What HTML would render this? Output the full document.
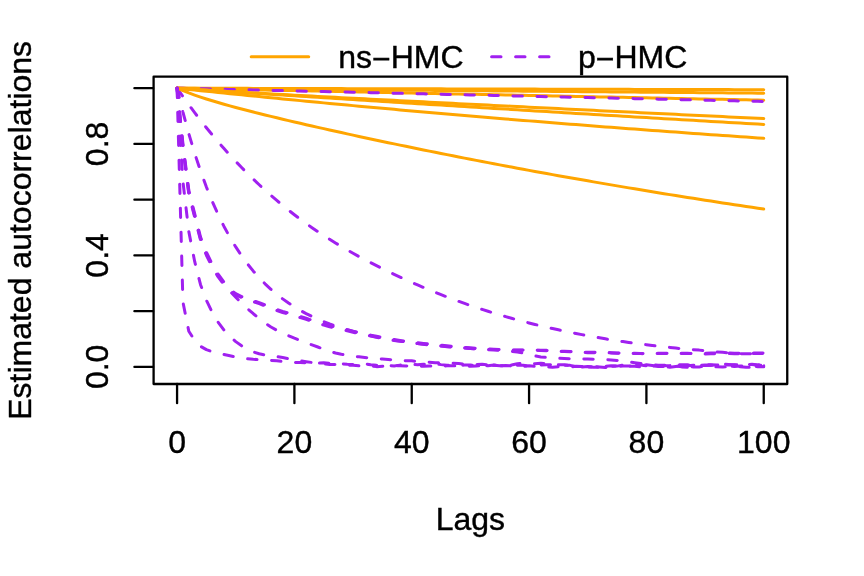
<!DOCTYPE html>
<html><head><meta charset="utf-8"><title>Autocorrelations</title>
<style>html,body{margin:0;padding:0;background:#fff;}.o{stroke:#FFA500}.p{stroke:#A020F0;stroke-dasharray:9.4 14.6}body{width:864px;height:576px;overflow:hidden;font-family:"Liberation Sans",sans-serif;}</style>
</head><body>
<svg width="864" height="576" viewBox="0 0 864 576" style="display:block;will-change:transform">
<rect x="0" y="0" width="864" height="576" fill="#ffffff"/>
<g fill="none" stroke-width="3" stroke-linecap="round" stroke-linejoin="round">
<polyline class="o" points="177.07,88.18 182.94,88.20 188.80,88.21 194.67,88.23 200.54,88.24 206.40,88.26 212.27,88.27 218.14,88.29 224.00,88.30 229.87,88.32 235.74,88.33 241.60,88.35 247.47,88.36 253.34,88.38 259.20,88.40 265.07,88.41 270.94,88.43 276.80,88.44 282.67,88.46 288.54,88.47 294.40,88.49 300.27,88.50 306.14,88.52 312.00,88.53 317.87,88.55 323.74,88.56 329.60,88.58 335.47,88.59 341.34,88.61 347.20,88.63 353.07,88.64 358.94,88.66 364.80,88.67 370.67,88.69 376.54,88.70 382.40,88.72 388.27,88.73 394.14,88.75 400.00,88.76 405.87,88.78 411.74,88.79 417.60,88.81 423.47,88.82 429.34,88.84 435.20,88.86 441.07,88.87 446.94,88.89 452.80,88.90 458.67,88.92 464.54,88.93 470.40,88.95 476.27,88.96 482.14,88.98 488.01,88.99 493.87,89.01 499.74,89.02 505.61,89.04 511.47,89.05 517.34,89.07 523.21,89.09 529.07,89.10 534.94,89.12 540.81,89.13 546.67,89.15 552.54,89.16 558.41,89.18 564.27,89.19 570.14,89.21 576.01,89.22 581.87,89.24 587.74,89.25 593.61,89.27 599.47,89.28 605.34,89.30 611.21,89.32 617.07,89.33 622.94,89.35 628.81,89.36 634.67,89.38 640.54,89.39 646.41,89.41 652.27,89.42 658.14,89.44 664.01,89.45 669.87,89.47 675.74,89.48 681.61,89.50 687.47,89.51 693.34,89.53 699.21,89.54 705.07,89.56 710.94,89.58 716.81,89.59 722.67,89.61 728.54,89.62 734.41,89.64 740.27,89.65 746.14,89.67 752.01,89.68 757.87,89.70 763.74,89.71"/>
<polyline class="o" points="177.07,88.18 182.94,88.23 188.80,88.28 194.67,88.33 200.54,88.38 206.40,88.43 212.27,88.48 218.14,88.53 224.00,88.58 229.87,88.64 235.74,88.69 241.60,88.74 247.47,88.79 253.34,88.84 259.20,88.89 265.07,88.94 270.94,88.99 276.80,89.04 282.67,89.09 288.54,89.14 294.40,89.19 300.27,89.24 306.14,89.29 312.00,89.34 317.87,89.39 323.74,89.44 329.60,89.49 335.47,89.54 341.34,89.59 347.20,89.64 353.07,89.69 358.94,89.74 364.80,89.80 370.67,89.85 376.54,89.90 382.40,89.95 388.27,90.00 394.14,90.05 400.00,90.10 405.87,90.15 411.74,90.20 417.60,90.25 423.47,90.30 429.34,90.35 435.20,90.40 441.07,90.45 446.94,90.50 452.80,90.55 458.67,90.60 464.54,90.65 470.40,90.70 476.27,90.75 482.14,90.80 488.01,90.85 493.87,90.90 499.74,90.95 505.61,91.00 511.47,91.05 517.34,91.10 523.21,91.15 529.07,91.20 534.94,91.25 540.81,91.30 546.67,91.35 552.54,91.40 558.41,91.45 564.27,91.50 570.14,91.55 576.01,91.60 581.87,91.65 587.74,91.70 593.61,91.75 599.47,91.80 605.34,91.85 611.21,91.90 617.07,91.95 622.94,92.00 628.81,92.05 634.67,92.10 640.54,92.15 646.41,92.20 652.27,92.25 658.14,92.30 664.01,92.35 669.87,92.40 675.74,92.45 681.61,92.50 687.47,92.55 693.34,92.60 699.21,92.65 705.07,92.70 710.94,92.75 716.81,92.80 722.67,92.85 728.54,92.90 734.41,92.95 740.27,93.00 746.14,93.05 752.01,93.10 757.87,93.15 763.74,93.20"/>
<polyline class="o" points="177.07,88.18 182.94,88.30 188.80,88.43 194.67,88.55 200.54,88.67 206.40,88.79 212.27,88.92 218.14,89.04 224.00,89.16 229.87,89.28 235.74,89.41 241.60,89.53 247.47,89.65 253.34,89.77 259.20,89.89 265.07,90.02 270.94,90.14 276.80,90.26 282.67,90.38 288.54,90.50 294.40,90.62 300.27,90.75 306.14,90.87 312.00,90.99 317.87,91.11 323.74,91.23 329.60,91.35 335.47,91.48 341.34,91.60 347.20,91.72 353.07,91.84 358.94,91.96 364.80,92.08 370.67,92.20 376.54,92.32 382.40,92.44 388.27,92.57 394.14,92.69 400.00,92.81 405.87,92.93 411.74,93.05 417.60,93.17 423.47,93.29 429.34,93.41 435.20,93.53 441.07,93.65 446.94,93.77 452.80,93.89 458.67,94.01 464.54,94.13 470.40,94.25 476.27,94.37 482.14,94.49 488.01,94.61 493.87,94.73 499.74,94.85 505.61,94.97 511.47,95.09 517.34,95.21 523.21,95.33 529.07,95.45 534.94,95.57 540.81,95.69 546.67,95.81 552.54,95.93 558.41,96.05 564.27,96.17 570.14,96.29 576.01,96.41 581.87,96.52 587.74,96.64 593.61,96.76 599.47,96.88 605.34,97.00 611.21,97.12 617.07,97.24 622.94,97.36 628.81,97.48 634.67,97.59 640.54,97.71 646.41,97.83 652.27,97.95 658.14,98.07 664.01,98.19 669.87,98.31 675.74,98.42 681.61,98.54 687.47,98.66 693.34,98.78 699.21,98.90 705.07,99.01 710.94,99.13 716.81,99.25 722.67,99.37 728.54,99.49 734.41,99.60 740.27,99.72 746.14,99.84 752.01,99.96 757.87,100.07 763.74,100.19"/>
<polyline class="p" points="177.07,88.18 182.94,88.32 188.80,88.45 194.67,88.59 200.54,88.73 206.40,88.86 212.27,89.00 218.14,89.13 224.00,89.27 229.87,89.41 235.74,89.54 241.60,89.68 247.47,89.81 253.34,89.95 259.20,90.08 265.07,90.22 270.94,90.36 276.80,90.49 282.67,90.63 288.54,90.76 294.40,90.90 300.27,91.03 306.14,91.17 312.00,91.30 317.87,91.44 323.74,91.57 329.60,91.71 335.47,91.84 341.34,91.98 347.20,92.11 353.07,92.25 358.94,92.38 364.80,92.51 370.67,92.65 376.54,92.78 382.40,92.92 388.27,93.05 394.14,93.19 400.00,93.32 405.87,93.45 411.74,93.59 417.60,93.72 423.47,93.85 429.34,93.99 435.20,94.12 441.07,94.26 446.94,94.39 452.80,94.52 458.67,94.66 464.54,94.79 470.40,94.92 476.27,95.06 482.14,95.19 488.01,95.32 493.87,95.45 499.74,95.59 505.61,95.72 511.47,95.85 517.34,95.99 523.21,96.12 529.07,96.25 534.94,96.38 540.81,96.52 546.67,96.65 552.54,96.78 558.41,96.91 564.27,97.05 570.14,97.18 576.01,97.31 581.87,97.44 587.74,97.57 593.61,97.71 599.47,97.84 605.34,97.97 611.21,98.10 617.07,98.23 622.94,98.36 628.81,98.50 634.67,98.63 640.54,98.76 646.41,98.89 652.27,99.02 658.14,99.15 664.01,99.28 669.87,99.41 675.74,99.54 681.61,99.68 687.47,99.81 693.34,99.94 699.21,100.07 705.07,100.20 710.94,100.33 716.81,100.46 722.67,100.59 728.54,100.72 734.41,100.85 740.27,100.98 746.14,101.11 752.01,101.24 757.87,101.37 763.74,101.50"/>
<polyline class="p" points="177.07,88.18 182.94,96.60 188.80,104.75 194.67,112.65 200.54,120.30 206.40,127.70 212.27,134.88 218.14,141.83 224.00,148.56 229.87,155.09 235.74,161.40 241.60,167.53 247.47,173.46 253.34,179.20 259.20,184.77 265.07,190.17 270.94,195.40 276.80,200.46 282.67,205.37 288.54,210.13 294.40,214.74 300.27,219.21 306.14,223.51 312.00,227.66 317.87,231.67 323.74,235.55 329.60,239.30 335.47,242.94 341.34,246.47 347.20,249.90 353.07,253.23 358.94,256.47 364.80,259.63 370.67,262.71 376.54,265.71 382.40,268.64 388.27,271.50 394.14,274.30 400.00,277.04 405.87,279.72 411.74,282.35 417.60,284.92 423.47,287.44 429.34,289.90 435.20,292.31 441.07,294.66 446.94,296.95 452.80,299.18 458.67,301.35 464.54,303.46 470.40,305.51 476.27,307.49 482.14,309.42 488.01,311.28 493.87,313.10 499.74,314.86 505.61,316.58 511.47,318.25 517.34,319.86 523.21,321.43 529.07,322.95 534.94,324.42 540.81,325.84 546.67,327.21 552.54,328.54 558.41,329.83 564.27,331.07 570.14,332.28 576.01,333.46 581.87,334.60 587.74,335.71 593.61,336.79 599.47,337.83 605.34,338.84 611.21,339.77 617.07,340.67 622.94,341.57 628.81,342.43 634.67,343.26 640.54,343.96 646.41,344.73 652.27,345.46 658.14,346.12 664.01,346.78 669.87,347.42 675.74,348.11 681.61,348.67 687.47,349.25 693.34,349.66 699.21,350.12 705.07,350.72 710.94,351.26 716.81,351.93 722.67,352.36 728.54,352.87 734.41,353.18 740.27,353.63 746.14,353.65 752.01,353.77 757.87,353.72 763.74,353.20"/>
<polyline class="o" points="177.07,88.18 182.94,88.57 188.80,88.96 194.67,89.34 200.54,89.73 206.40,90.12 212.27,90.50 218.14,90.89 224.00,91.27 229.87,91.65 235.74,92.04 241.60,92.42 247.47,92.80 253.34,93.18 259.20,93.57 265.07,93.95 270.94,94.33 276.80,94.71 282.67,95.09 288.54,95.46 294.40,95.84 300.27,96.22 306.14,96.60 312.00,96.97 317.87,97.35 323.74,97.72 329.60,98.10 335.47,98.47 341.34,98.85 347.20,99.22 353.07,99.59 358.94,99.97 364.80,100.34 370.67,100.71 376.54,101.08 382.40,101.45 388.27,101.82 394.14,102.19 400.00,102.56 405.87,102.92 411.74,103.29 417.60,103.66 423.47,104.03 429.34,104.39 435.20,104.76 441.07,105.12 446.94,105.49 452.80,105.85 458.67,106.22 464.54,106.58 470.40,106.94 476.27,107.30 482.14,107.66 488.01,108.03 493.87,108.39 499.74,108.75 505.61,109.11 511.47,109.46 517.34,109.82 523.21,110.18 529.07,110.54 534.94,110.90 540.81,111.25 546.67,111.61 552.54,111.96 558.41,112.32 564.27,112.67 570.14,113.03 576.01,113.38 581.87,113.73 587.74,114.09 593.61,114.44 599.47,114.79 605.34,115.14 611.21,115.49 617.07,115.84 622.94,116.19 628.81,116.54 634.67,116.89 640.54,117.24 646.41,117.59 652.27,117.93 658.14,118.28 664.01,118.63 669.87,118.97 675.74,119.32 681.61,119.66 687.47,120.01 693.34,120.35 699.21,120.69 705.07,121.04 710.94,121.38 716.81,121.72 722.67,122.06 728.54,122.40 734.41,122.74 740.27,123.08 746.14,123.42 752.01,123.76 757.87,124.10 763.74,124.44"/>
<polyline class="o" points="177.07,88.18 182.94,88.64 188.80,89.08 194.67,89.49 200.54,89.89 206.40,90.27 212.27,90.63 218.14,90.99 224.00,91.34 229.87,91.68 235.74,92.01 241.60,92.34 247.47,92.67 253.34,92.99 259.20,93.31 265.07,93.62 270.94,93.94 276.80,94.25 282.67,94.56 288.54,94.87 294.40,95.18 300.27,95.49 306.14,95.80 312.00,96.11 317.87,96.41 323.74,96.72 329.60,97.02 335.47,97.33 341.34,97.63 347.20,97.93 353.07,98.24 358.94,98.54 364.80,98.84 370.67,99.14 376.54,99.44 382.40,99.75 388.27,100.05 394.14,100.35 400.00,100.65 405.87,100.95 411.74,101.24 417.60,101.54 423.47,101.84 429.34,102.14 435.20,102.44 441.07,102.73 446.94,103.03 452.80,103.33 458.67,103.63 464.54,103.92 470.40,104.22 476.27,104.51 482.14,104.81 488.01,105.10 493.87,105.40 499.74,105.69 505.61,105.98 511.47,106.28 517.34,106.57 523.21,106.86 529.07,107.16 534.94,107.45 540.81,107.74 546.67,108.03 552.54,108.32 558.41,108.61 564.27,108.90 570.14,109.19 576.01,109.48 581.87,109.77 587.74,110.06 593.61,110.35 599.47,110.64 605.34,110.93 611.21,111.22 617.07,111.50 622.94,111.79 628.81,112.08 634.67,112.36 640.54,112.65 646.41,112.94 652.27,113.22 658.14,113.51 664.01,113.79 669.87,114.08 675.74,114.36 681.61,114.64 687.47,114.93 693.34,115.21 699.21,115.49 705.07,115.78 710.94,116.06 716.81,116.34 722.67,116.62 728.54,116.90 734.41,117.19 740.27,117.47 746.14,117.75 752.01,118.03 757.87,118.31 763.74,118.59"/>
<polyline class="o" points="177.07,88.18 182.94,88.80 188.80,89.42 194.67,90.03 200.54,90.64 206.40,91.25 212.27,91.86 218.14,92.46 224.00,93.06 229.87,93.66 235.74,94.25 241.60,94.85 247.47,95.44 253.34,96.02 259.20,96.61 265.07,97.19 270.94,97.77 276.80,98.35 282.67,98.92 288.54,99.49 294.40,100.06 300.27,100.63 306.14,101.19 312.00,101.76 317.87,102.32 323.74,102.87 329.60,103.43 335.47,103.98 341.34,104.53 347.20,105.07 353.07,105.62 358.94,106.16 364.80,106.70 370.67,107.24 376.54,107.77 382.40,108.31 388.27,108.84 394.14,109.36 400.00,109.89 405.87,110.41 411.74,110.93 417.60,111.45 423.47,111.97 429.34,112.48 435.20,112.99 441.07,113.50 446.94,114.01 452.80,114.51 458.67,115.02 464.54,115.52 470.40,116.02 476.27,116.51 482.14,117.00 488.01,117.50 493.87,117.99 499.74,118.47 505.61,118.96 511.47,119.44 517.34,119.92 523.21,120.40 529.07,120.88 534.94,121.35 540.81,121.82 546.67,122.29 552.54,122.76 558.41,123.23 564.27,123.69 570.14,124.15 576.01,124.61 581.87,125.07 587.74,125.52 593.61,125.98 599.47,126.43 605.34,126.88 611.21,127.33 617.07,127.77 622.94,128.22 628.81,128.66 634.67,129.10 640.54,129.54 646.41,129.97 652.27,130.40 658.14,130.84 664.01,131.27 669.87,131.69 675.74,132.12 681.61,132.54 687.47,132.97 693.34,133.39 699.21,133.81 705.07,134.22 710.94,134.64 716.81,135.05 722.67,135.46 728.54,135.87 734.41,136.28 740.27,136.69 746.14,137.09 752.01,137.49 757.87,137.89 763.74,138.29"/>
<polyline class="o" points="177.07,88.18 182.94,90.64 188.80,92.92 194.67,95.05 200.54,97.06 206.40,98.97 212.27,100.79 218.14,102.54 224.00,104.23 229.87,105.87 235.74,107.46 241.60,109.02 247.47,110.54 253.34,112.04 259.20,113.51 265.07,114.96 270.94,116.39 276.80,117.81 282.67,119.21 288.54,120.59 294.40,121.96 300.27,123.32 306.14,124.67 312.00,126.01 317.87,127.34 323.74,128.66 329.60,129.98 335.47,131.28 341.34,132.57 347.20,133.86 353.07,135.14 358.94,136.41 364.80,137.68 370.67,138.93 376.54,140.18 382.40,141.43 388.27,142.66 394.14,143.89 400.00,145.11 405.87,146.33 411.74,147.53 417.60,148.74 423.47,149.93 429.34,151.12 435.20,152.30 441.07,153.47 446.94,154.64 452.80,155.81 458.67,156.96 464.54,158.11 470.40,159.25 476.27,160.39 482.14,161.52 488.01,162.65 493.87,163.76 499.74,164.88 505.61,165.98 511.47,167.08 517.34,168.18 523.21,169.26 529.07,170.35 534.94,171.42 540.81,172.49 546.67,173.56 552.54,174.61 558.41,175.67 564.27,176.71 570.14,177.75 576.01,178.79 581.87,179.82 587.74,180.84 593.61,181.86 599.47,182.88 605.34,183.88 611.21,184.88 617.07,185.88 622.94,186.87 628.81,187.86 634.67,188.84 640.54,189.81 646.41,190.78 652.27,191.75 658.14,192.71 664.01,193.66 669.87,194.61 675.74,195.55 681.61,196.49 687.47,197.42 693.34,198.35 699.21,199.27 705.07,200.19 710.94,201.10 716.81,202.01 722.67,202.91 728.54,203.81 734.41,204.70 740.27,205.59 746.14,206.47 752.01,207.35 757.87,208.23 763.74,209.09"/>
<polyline class="p" points="177.07,88.18 182.94,146.71 188.80,192.57 194.67,215.60 200.54,238.84 206.40,253.83 212.27,265.89 218.14,275.69 224.00,283.65 229.87,290.34 235.74,294.87 241.60,297.67 247.47,299.77 253.34,301.64 259.20,303.70 265.07,305.98 270.94,308.27 276.80,310.46 282.67,312.46 288.54,314.26 294.40,315.94 300.27,317.62 306.14,319.38 312.00,321.30 317.87,323.24 323.74,325.07 329.60,326.70 335.47,328.16 341.34,329.54 347.20,330.88 353.07,332.23 358.94,333.58 364.80,334.89 370.67,336.14 376.54,337.30 382.40,338.41 388.27,339.45 394.14,340.41 400.00,341.29 405.87,342.10 411.74,342.86 417.60,343.56 423.47,344.22 429.34,344.83 435.20,345.42 441.07,345.97 446.94,346.49 452.80,347.00 458.67,347.48 464.54,347.94 470.40,348.40 476.27,348.84 482.14,349.26 488.01,349.69 493.87,350.10 499.74,350.45 505.61,350.81 511.47,351.27 517.34,351.99 523.21,352.94 529.07,354.36 534.94,355.91 540.81,356.91 546.67,357.50 552.54,357.95 558.41,358.30 564.27,358.54 570.14,358.70 576.01,358.82 581.87,358.93 587.74,359.07 593.61,359.24 599.47,359.43 605.34,359.65 611.21,359.95 617.07,360.41 622.94,361.12 628.81,361.94 634.67,362.70 640.54,363.52 646.41,364.43 652.27,364.77 658.14,365.17 664.01,365.31 669.87,365.35 675.74,364.91 681.61,364.77 687.47,364.79 693.34,365.21 699.21,365.89 705.07,365.47 710.94,365.13 716.81,365.32 722.67,365.19 728.54,364.98 734.41,364.80 740.27,364.61 746.14,365.04 752.01,364.56 757.87,365.33 763.74,365.06"/>
<polyline class="p" points="177.07,88.18 182.94,143.92 188.80,190.13 194.67,213.72 200.54,237.11 206.40,252.15 212.27,264.24 218.14,274.08 224.00,282.17 229.87,289.01 235.74,293.65 241.60,296.54 247.47,298.72 253.34,300.65 259.20,302.72 265.07,304.98 270.94,307.20 276.80,309.34 282.67,311.32 288.54,313.11 294.40,314.81 300.27,316.49 306.14,318.27 312.00,320.18 317.87,322.12 323.74,323.96 329.60,325.58 335.47,327.04 341.34,328.41 347.20,329.76 353.07,331.13 358.94,332.50 364.80,333.84 370.67,335.12 376.54,336.32 382.40,337.48 388.27,338.57 394.14,339.57 400.00,340.46 405.87,341.27 411.74,342.03 417.60,342.73 423.47,343.38 429.34,344.02 435.20,344.64 441.07,345.24 446.94,345.82 452.80,346.38 458.67,346.90 464.54,347.39 470.40,347.84 476.27,348.25 482.14,348.62 488.01,348.95 493.87,349.24 499.74,349.51 505.61,349.75 511.47,349.94 517.34,350.03 523.21,350.07 529.07,350.09 534.94,350.12 540.81,350.17 546.67,350.37 552.54,350.69 558.41,351.04 564.27,351.33 570.14,351.58 576.01,351.82 581.87,352.09 587.74,352.20 593.61,352.28 599.47,352.46 605.34,352.54 611.21,352.64 617.07,352.99 622.94,353.04 628.81,353.12 634.67,353.18 640.54,353.38 646.41,353.47 652.27,353.52 658.14,353.35 664.01,353.31 669.87,353.32 675.74,353.12 681.61,353.24 687.47,353.32 693.34,353.57 699.21,353.31 705.07,353.19 710.94,353.09 716.81,353.05 722.67,353.08 728.54,353.09 734.41,353.16 740.27,353.21 746.14,353.20 752.01,353.00 757.87,352.96 763.74,353.00"/>
<polyline class="p" points="177.07,88.18 182.94,112.12 188.80,133.75 194.67,153.30 200.54,170.98 206.40,186.98 212.27,201.45 218.14,214.56 224.00,226.43 229.87,237.19 235.74,246.95 241.60,255.80 247.47,263.84 253.34,271.14 259.20,277.77 265.07,283.81 270.94,289.31 276.80,294.32 282.67,298.89 288.54,303.06 294.40,306.88 300.27,310.36 306.14,313.56 312.00,316.49 317.87,319.18 323.74,321.65 329.60,323.93 335.47,326.02 341.34,327.96 347.20,329.75 353.07,331.41 358.94,332.94 364.80,334.37 370.67,335.70 376.54,336.94 382.40,338.09 388.27,339.17 394.14,340.18 400.00,341.13 405.87,342.03 411.74,342.87 417.60,343.61 423.47,344.30 429.34,344.94 435.20,345.54 441.07,346.10 446.94,346.64 452.80,347.14 458.67,347.60 464.54,348.04 470.40,348.43 476.27,348.79 482.14,349.10 488.01,349.36 493.87,349.56 499.74,349.73 505.61,349.97 511.47,350.16 517.34,350.25 523.21,350.29 529.07,350.31 534.94,350.34 540.81,350.39 546.67,350.64 552.54,351.01 558.41,351.32 564.27,351.57 570.14,351.82 576.01,352.18 581.87,352.41 587.74,352.64 593.61,352.71 599.47,352.60 605.34,352.72 611.21,352.96 617.07,353.22 622.94,353.30 628.81,353.38 634.67,353.59 640.54,353.60 646.41,353.80 652.27,353.65 658.14,353.52 664.01,353.38 669.87,353.49 675.74,353.44 681.61,353.48 687.47,353.56 693.34,353.60 699.21,353.77 705.07,353.92 710.94,353.74 716.81,353.72 722.67,353.66 728.54,353.49 734.41,353.72 740.27,353.78 746.14,353.69 752.01,353.58 757.87,353.59 763.74,353.41"/>
<polyline class="p" points="177.07,88.18 182.94,148.10 188.80,194.25 194.67,217.21 200.54,240.15 206.40,255.23 212.27,267.16 218.14,276.85 224.00,284.65 229.87,291.15 235.74,297.26 241.60,303.14 247.47,308.63 253.34,313.73 259.20,318.56 265.07,323.04 270.94,326.95 276.80,330.23 282.67,333.09 288.54,335.70 294.40,338.23 300.27,340.59 306.14,342.80 312.00,344.93 317.87,347.03 323.74,349.24 329.60,351.31 335.47,353.02 341.34,354.28 347.20,355.28 353.07,356.13 358.94,356.85 364.80,357.49 370.67,358.04 376.54,358.53 382.40,358.98 388.27,359.47 394.14,359.94 400.00,360.24 405.87,360.69 411.74,360.85 417.60,361.44 423.47,361.76 429.34,362.22 435.20,362.79 441.07,362.89 446.94,363.25 452.80,363.28 458.67,363.58 464.54,364.33 470.40,364.51 476.27,364.57 482.14,364.19 488.01,364.84 493.87,364.94 499.74,365.88 505.61,365.45 511.47,365.98 517.34,366.78 523.21,366.53 529.07,365.74 534.94,366.43 540.81,366.77 546.67,366.87 552.54,367.15 558.41,366.63 564.27,366.80 570.14,366.90 576.01,366.34 581.87,366.56 587.74,366.14 593.61,366.51 599.47,366.94 605.34,367.59 611.21,366.27 617.07,366.30 622.94,366.05 628.81,365.99 634.67,365.84 640.54,365.79 646.41,364.81 652.27,365.51 658.14,366.33 664.01,366.72 669.87,367.19 675.74,366.52 681.61,365.96 687.47,366.40 693.34,366.97 699.21,366.90 705.07,365.98 710.94,367.35 716.81,366.77 722.67,367.11 728.54,366.32 734.41,366.75 740.27,366.70 746.14,367.27 752.01,367.46 757.87,366.42 763.74,365.88"/>
<polyline class="p" points="177.07,88.18 182.94,181.54 188.80,231.48 194.67,261.44 200.54,284.72 206.40,300.33 212.27,312.48 218.14,322.18 224.00,330.05 229.87,336.50 235.74,341.64 241.60,345.80 247.47,349.29 253.34,351.96 259.20,353.79 265.07,354.97 270.94,355.84 276.80,356.64 282.67,357.54 288.54,358.63 294.40,359.75 300.27,360.79 306.14,361.65 312.00,362.52 317.87,363.39 323.74,363.95 329.60,364.39 335.47,364.44 341.34,364.54 347.20,365.22 353.07,365.17 358.94,365.76 364.80,365.86 370.67,365.79 376.54,366.64 382.40,366.24 388.27,365.91 394.14,365.80 400.00,365.86 405.87,365.89 411.74,366.22 417.60,366.14 423.47,366.22 429.34,365.97 435.20,366.43 441.07,366.08 446.94,365.85 452.80,365.82 458.67,365.95 464.54,365.56 470.40,366.36 476.27,365.94 482.14,365.72 488.01,365.52 493.87,365.32 499.74,365.68 505.61,365.78 511.47,365.41 517.34,365.21 523.21,365.17 529.07,366.01 534.94,365.64 540.81,365.04 546.67,364.64 552.54,364.71 558.41,365.67 564.27,365.18 570.14,365.34 576.01,366.67 581.87,366.27 587.74,366.90 593.61,367.30 599.47,367.29 605.34,366.33 611.21,366.38 617.07,366.11 622.94,365.15 628.81,364.46 634.67,364.76 640.54,365.07 646.41,365.83 652.27,366.16 658.14,365.86 664.01,365.64 669.87,365.60 675.74,365.13 681.61,365.64 687.47,365.69 693.34,365.34 699.21,365.13 705.07,364.72 710.94,364.73 716.81,365.09 722.67,365.04 728.54,365.69 734.41,366.53 740.27,366.09 746.14,366.05 752.01,365.84 757.87,366.68 763.74,366.68"/>
<polyline class="p" points="177.07,88.18 182.94,302.22 188.80,331.21 194.67,340.40 200.54,346.31 206.40,349.65 212.27,351.71 218.14,353.23 224.00,354.51 229.87,355.76 235.74,356.94 241.60,357.96 247.47,358.77 253.34,359.33 259.20,359.71 265.07,360.02 270.94,360.37 276.80,360.82 282.67,361.49 288.54,362.14 294.40,362.56 300.27,362.53 306.14,362.78 312.00,363.01 317.87,363.15 323.74,362.84 329.60,363.17 335.47,362.80 341.34,363.83 347.20,364.31 353.07,364.59 358.94,364.19 364.80,363.71 370.67,364.80 376.54,365.31 382.40,364.98 388.27,365.28 394.14,366.03 400.00,365.12 405.87,364.72 411.74,364.41 417.60,364.74 423.47,364.14 429.34,364.42 435.20,363.87 441.07,364.62 446.94,365.20 452.80,365.06 458.67,365.49 464.54,365.04 470.40,364.94 476.27,365.56 482.14,365.49 488.01,365.68 493.87,365.11 499.74,365.56 505.61,365.81 511.47,365.05 517.34,363.84 523.21,363.02 529.07,363.49 534.94,363.78 540.81,363.25 546.67,363.79 552.54,364.73 558.41,364.85 564.27,364.75 570.14,365.42 576.01,366.44 581.87,367.13 587.74,366.46 593.61,366.76 599.47,366.64 605.34,366.34 611.21,365.86 617.07,366.04 622.94,365.70 628.81,366.24 634.67,366.37 640.54,366.86 646.41,365.99 652.27,365.98 658.14,366.39 664.01,366.49 669.87,366.49 675.74,365.96 681.61,366.88 687.47,367.29 693.34,367.23 699.21,365.48 705.07,365.00 710.94,365.25 716.81,364.96 722.67,363.95 728.54,364.48 734.41,364.98 740.27,364.46 746.14,364.46 752.01,364.35 757.87,364.96 763.74,364.03"/>
</g>
<g fill="none" stroke="#000000" stroke-width="2.3" stroke-linecap="round" stroke-linejoin="round">
<rect x="153.6" y="76.65" width="633.65" height="307.35"/>
<line x1="177.07" y1="384.0" x2="177.07" y2="403.2"/>
<line x1="294.40" y1="384.0" x2="294.40" y2="403.2"/>
<line x1="411.74" y1="384.0" x2="411.74" y2="403.2"/>
<line x1="529.07" y1="384.0" x2="529.07" y2="403.2"/>
<line x1="646.41" y1="384.0" x2="646.41" y2="403.2"/>
<line x1="763.74" y1="384.0" x2="763.74" y2="403.2"/>
<line x1="153.1" y1="366.88" x2="134.4" y2="366.88"/>
<line x1="153.1" y1="311.14" x2="134.4" y2="311.14"/>
<line x1="153.1" y1="255.40" x2="134.4" y2="255.40"/>
<line x1="153.1" y1="199.66" x2="134.4" y2="199.66"/>
<line x1="153.1" y1="143.92" x2="134.4" y2="143.92"/>
<line x1="153.1" y1="88.18" x2="134.4" y2="88.18"/>
</g>
<g font-family="'Liberation Sans', sans-serif" font-size="32px" fill="#000000" stroke="#000000" stroke-width="0.4" text-anchor="middle">
<text x="177.07" y="453.1">0</text>
<text x="294.40" y="453.1">20</text>
<text x="411.74" y="453.1">40</text>
<text x="529.07" y="453.1">60</text>
<text x="646.41" y="453.1">80</text>
<text x="763.74" y="453.1">100</text>
<text transform="translate(107.5,366.88) rotate(-90)">0.0</text>
<text transform="translate(107.5,255.40) rotate(-90)">0.4</text>
<text transform="translate(107.5,143.92) rotate(-90)">0.8</text>
<text x="470.4" y="529.9">Lags</text>
<text transform="translate(30.7,230.4) rotate(-90)">Estimated autocorrelations</text>
<text x="338.25" y="67.6" text-anchor="start">ns<tspan dy="2.8">−</tspan><tspan dy="-2.8">HMC</tspan></text>
<text x="577.95" y="67.6" text-anchor="start">p<tspan dy="2.8">−</tspan><tspan dy="-2.8">HMC</tspan></text>
</g>
<line x1="251.2" y1="56.7" x2="308.7" y2="56.7" stroke="#FFA500" stroke-width="3" stroke-linecap="round"/>
<line x1="491.6" y1="56.7" x2="549.1" y2="56.7" stroke="#A020F0" stroke-width="3" stroke-linecap="round" stroke-dasharray="9.4 14.6"/>
</svg>
</body></html>
